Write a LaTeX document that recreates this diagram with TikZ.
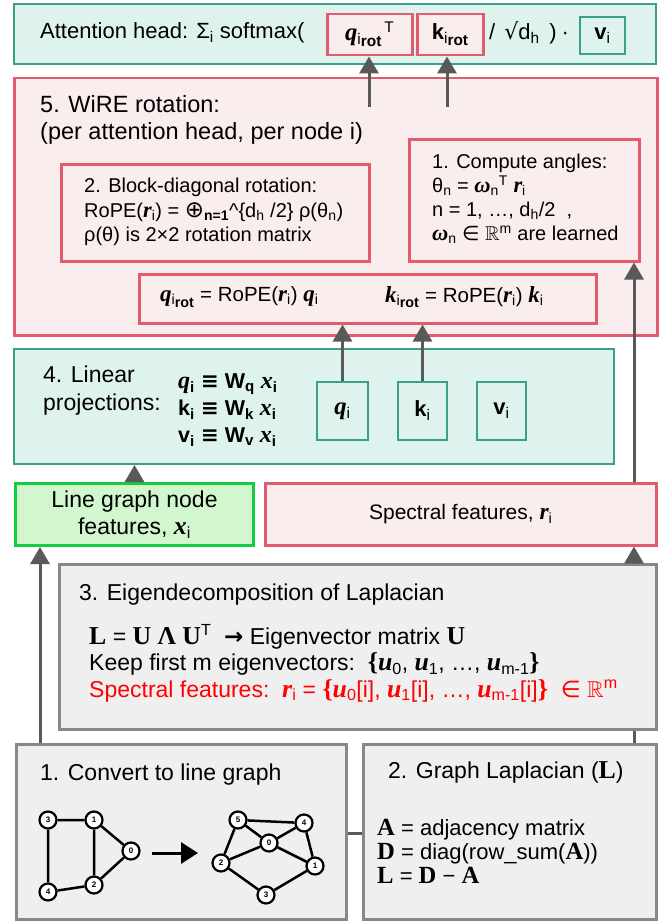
\documentclass[tikz,border=0pt]{standalone}
\usepackage{amsmath,amssymb}
\usepackage{fontspec}
\setmainfont{Liberation Sans}
\newfontfamily\dejavu{DejaVu Sans}
\newfontfamily\serifvar{Liberation Serif}[Scale=1.12]
\usetikzlibrary{arrows.meta}

\definecolor{tealline}{HTML}{3A9F8B}
\definecolor{tealfill}{HTML}{DFF3EE}
\definecolor{redline}{HTML}{E25C6E}
\definecolor{redfill}{HTML}{F9EDEE}
\definecolor{greenline}{HTML}{14CC44}
\definecolor{greenfill}{HTML}{D2F7CE}
\definecolor{grayline}{HTML}{888888}
\definecolor{grayfill}{HTML}{EFEFEF}
\definecolor{arrowgray}{HTML}{595959}

% bold italic / bold upright serif symbols
\newcommand{\bvar}[1]{{\serifvar\bfseries\itshape #1}}
\newcommand{\bup}[1]{{\serifvar\bfseries #1}}
\newcommand{\sbi}{\textsubscript{i}}
\newcommand{\rot}{\textsubscript{i\raisebox{-2.5pt}{\bfseries rot}}}

\begin{document}
\begin{tikzpicture}[x=1pt,y=-1pt]
    \tikzstyle{arrow} = [-{Triangle[length=17pt,width=19pt]}, draw=arrowgray, line width=3pt]
    \tikzstyle{link} = [draw=arrowgray, line width=3pt]
    \tikzstyle{tealbox} = [rectangle, draw=tealline, fill=tealfill, line width=2pt,
        inner sep=0pt, anchor=north west]
    \tikzstyle{redbox} = [rectangle, draw=redline, fill=redfill, line width=2.5pt,
        inner sep=0pt, anchor=north west]
    \tikzstyle{greenbox} = [rectangle, draw=greenline, fill=greenfill, line width=3pt,
        inner sep=0pt, anchor=north west]
    \tikzstyle{graybox} = [rectangle, draw=grayline, fill=grayfill, line width=3pt,
        inner sep=0pt, anchor=north west]
    \tikzstyle{txt} = [inner sep=0pt, align=left, anchor=west,
        font=\fontsize{23}{27}\selectfont]
    \tikzstyle{gn} = [circle, draw=black, fill=white, line width=2.2pt, minimum size=17pt,
        inner sep=0pt, font=\fontsize{8}{8}\selectfont\bfseries]
    \tikzstyle{gedge} = [line width=2.5pt]

    \useasboundingbox (0,0) rectangle (667,923);

    % attention head
    \node(att) [tealbox, minimum width=642pt, minimum height=60pt] at (13,3) {};
    \node(atttext) [txt, font=\fontsize{22}{26}\selectfont] at (40,33)
        {Attention head: Σ\sbi\ softmax(};
    \node(qrot) [redbox, minimum width=85pt, minimum height=41pt, font=\fontsize{22}{26}\selectfont]
        at (326,13) {\bvar{q}\rot\textsuperscript{\,T}};
    \node(krot) [redbox, minimum width=66pt, minimum height=41pt, font=\fontsize{22}{26}\selectfont]
        at (416,13) {{\bfseries k}\rot};
    \node(divtext) [txt, font=\fontsize{22}{26}\selectfont] at (489,33)
        {/\hspace{9pt}{\dejavu √}d\textsubscript{h}\ \,)\hspace{5pt}·};
    \node(vatt) [tealbox, minimum width=45pt, minimum height=37pt, font=\fontsize{22}{26}\selectfont]
        at (579,16) {{\bfseries v}\sbi};

    % WiRE rotation
    \node(wire) [redbox, minimum width=643pt, minimum height=257pt] at (13,77) {};
    \node(wiretext) [txt, font=\fontsize{23.5}{26.5}\selectfont] at (40,120)
        {5. WiRE rotation:\\(per attention head, per node i)};
    \node(block) [redbox, minimum width=308pt, minimum height=97pt] at (60,163) {};
    \node(blocktext) [txt, font=\fontsize{20}{24.5}\selectfont] at (84,212)
        {2. Block-diagonal rotation:\\
         RoPE(\bvar{r}\sbi) = {\dejavu\fontsize{23}{24}\selectfont ⊕}\textsubscript{\bfseries n=1}\textasciicircum\{d\textsubscript{h} /2\} ρ(θ\textsubscript{n})\\
         ρ(θ) is 2×2 rotation matrix};
    \node(angles) [redbox, minimum width=230pt, minimum height=122pt] at (408,138) {};
    \node(anglestext) [txt, font=\fontsize{20}{24}\selectfont] at (432,199)
        {1. Compute angles:\\
         θ\textsubscript{n} = \bvar{ω}\textsubscript{n}\textsuperscript{T} \bvar{r}\sbi\\
         n = 1, …, d\textsubscript{h}/2\ \ ,\\
         \bvar{ω}\textsubscript{n} {\dejavu ∈} $\mathbb{R}$\textsuperscript{m} are learned};
    \node(rotbox) [redbox, minimum width=457pt, minimum height=49pt] at (138,273) {};
    \node(qrottext) [txt, font=\fontsize{20.5}{22}\selectfont] at (160,297)
        {\bvar{q}\rot\ = RoPE(\bvar{r}\sbi) \bvar{q}\sbi};
    \node(krottext) [txt, font=\fontsize{20.5}{22}\selectfont] at (385,297)
        {\bvar{k}\rot\ = RoPE(\bvar{r}\sbi) \bvar{k}\sbi};

    % linear projections
    \node(linear) [tealbox, minimum width=600pt, minimum height=115pt] at (13,348) {};
    \node(lintext) [txt, font=\fontsize{23}{28}\selectfont] at (43,391)
        {4. Linear\\projections:};
    \node(eqtext) [txt, font=\fontsize{21.5}{27}\selectfont\bfseries] at (178,410)
        {\bvar{q}\sbi\ {\dejavu ≡} W\textsubscript{q} \bvar{x}\sbi\\
         k\sbi\ {\dejavu ≡} W\textsubscript{k} \bvar{x}\sbi\\
         v\sbi\ {\dejavu ≡} W\textsubscript{v} \bvar{x}\sbi};
    \node(qi) [tealbox, minimum width=51pt, minimum height=58pt, font=\fontsize{22}{26}\selectfont]
        at (316,381) {\bvar{q}\sbi};
    \node(ki) [tealbox, minimum width=49pt, minimum height=58pt, font=\fontsize{22}{26}\selectfont]
        at (397,381) {{\bfseries k}\sbi};
    \node(vi) [tealbox, minimum width=49pt, minimum height=58pt, font=\fontsize{22}{26}\selectfont]
        at (476,381) {{\bfseries v}\sbi};

    % features
    \node(lgraph) [greenbox, minimum width=238pt, minimum height=62pt, align=center,
        font=\fontsize{23}{27}\selectfont] at (14,482)
        {Line graph node\\features, \bvar{x}\sbi};
    \node(spectral) [redbox, minimum width=391pt, minimum height=62pt,
        font=\fontsize{21}{24}\selectfont] at (264,482)
        {Spectral features, \bvar{r}\sbi};

    % eigendecomposition
    \node(eigen) [graybox, minimum width=597pt, minimum height=165pt] at (58,563) {};
    \node(eigentitle) [txt] at (79,595) {3. Eigendecomposition of Laplacian};
    \node(eigentext) [txt, font=\fontsize{23}{26.5}\selectfont] at (89,663)
        {\bup{L} = \bup{U} \bup{Λ} \bup{U}\textsuperscript{T}\ \ {\dejavu\bfseries →} Eigenvector matrix \bup{U}\\
         Keep first m eigenvectors:\ \ \bup{\{}\bvar{u}\textsubscript{0}, \bvar{u}\textsubscript{1}, …, \bvar{u}\textsubscript{m-1}\bup{\}}\\
         \textcolor{red}{Spectral features:\ \ \bvar{r}\sbi\ = \bup{\{}\bvar{u}\textsubscript{0}[i], \bvar{u}\textsubscript{1}[i], …, \bvar{u}\textsubscript{m-1}[i]\bup{\}}\ \ {\dejavu ∈} $\mathbb{R}$\textsuperscript{m}}};

    % line graph
    \node(conv) [graybox, minimum width=330pt, minimum height=175pt] at (15,743) {};
    \node(convtitle) [txt] at (40,775) {1. Convert to line graph};
    \node(a3) [gn] at (48,820) {3};
    \node(a1) [gn] at (94,820) {1};
    \node(a0) [gn] at (131,851) {0};
    \node(a4) [gn] at (48,892) {4};
    \node(a2) [gn] at (94,885) {2};
    \draw[gedge] (a3) -- (a1) (a3) -- (a4) (a1) -- (a2) (a1) -- (a0) (a0) -- (a2) (a4) -- (a2);
    \coordinate(gstart) at (152,853);
    \coordinate(gend) at (198,853);
    \draw[-{Triangle[length=17pt,width=21pt]}, line width=3pt] (gstart) -- (gend);
    \node(b5) [gn] at (238,820) {5};
    \node(b4) [gn] at (304,823) {4};
    \node(b0) [gn] at (269,843) {0};
    \node(b2) [gn] at (221,863) {2};
    \node(b1) [gn] at (315,866) {1};
    \node(b3) [gn] at (266,895) {3};
    \draw[gedge] (b5) -- (b4) (b5) -- (b0) (b5) -- (b2) (b4) -- (b0) (b4) -- (b1)
        (b0) -- (b2) (b0) -- (b1) (b2) -- (b3) (b3) -- (b1);

    % graph laplacian
    \node(lap) [graybox, minimum width=293pt, minimum height=175pt] at (362,743) {};
    \node(laptitle) [txt] at (388,772) {2. Graph Laplacian (\bup{L})};
    \node(laptext) [txt, font=\fontsize{22}{24}\selectfont] at (377,851)
        {\bup{A} = adjacency matrix\\
         \bup{D} = diag(row\_sum(\bup{A}))\\
         \bup{L} = \bup{D} − \bup{A}};

    % connectors
    \coordinate(qtail) at (369,107);
    \coordinate(ktail) at (447,107);
    \coordinate(rx) at (634,0);
    \coordinate(lx) at (40,0);
    \coordinate(ly) at (0,833);
    \draw[arrow] (qtail) -- (qtail |- qrot.south);
    \draw[arrow] (ktail) -- (ktail |- krot.south);
    \draw[arrow] (qi.north) -- (qi.north |- rotbox.south);
    \draw[arrow] (ki.north) -- (ki.north |- rotbox.south);
    \draw[arrow] (lgraph.north) -- (lgraph.north |- linear.south);
    \draw[arrow] (spectral.north -| rx) -- (angles.south -| rx);
    \draw[arrow] (eigen.north -| rx) -- (spectral.south -| rx);
    \draw[link] (lap.north -| rx) -- (eigen.south -| rx);
    \draw[arrow] (conv.north -| lx) -- (lgraph.south -| lx);
    \draw[link] (conv.east |- ly) -- (lap.west |- ly);
\end{tikzpicture}
\end{document}
